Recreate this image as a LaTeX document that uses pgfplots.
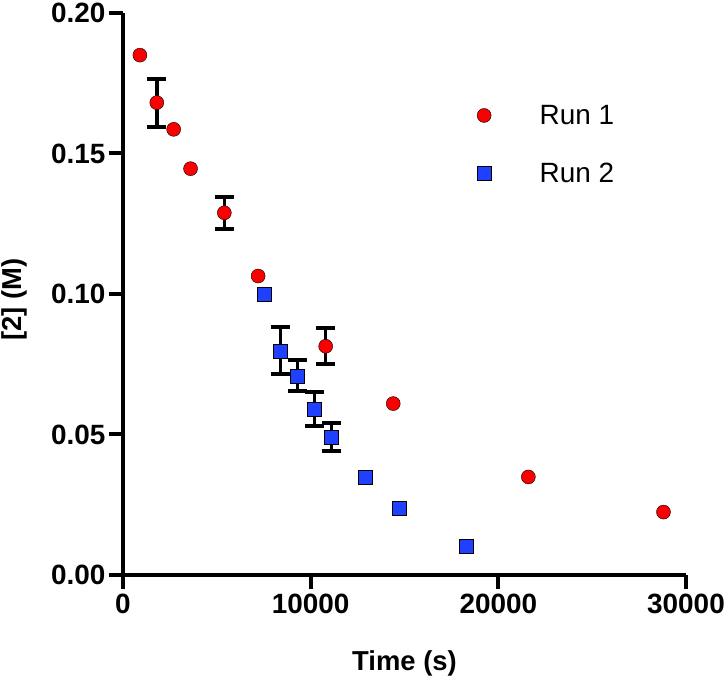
\documentclass[border=0pt]{standalone}
\usepackage{pgfplots}
\pgfplotsset{compat=1.18}
\usepackage{fontspec}
\setmainfont{Liberation Sans}
\definecolor{runred}{RGB}{250,0,0}
\definecolor{runblue}{RGB}{31,64,255}
\begin{document}
\begin{tikzpicture}
\useasboundingbox (-123bp,-105bp) rectangle (603bp,575bp);
\begin{axis}[
  scale only axis,
  width=563bp, height=562bp,
  xmin=0, xmax=30000, ymin=0, ymax=0.2,
  axis lines=left,
  axis line style={-, line width=4bp, black},
  xtick={0,10000,20000,30000},
  ytick={0,0.05,0.1,0.15,0.2},
  scaled x ticks=false,
  scaled y ticks=false,
  tick align=outside,
  major tick length=14bp,
  tick style={line width=4bp, black},
  /pgf/number format/assume math mode=true,
  x tick label style={/pgf/number format/1000 sep={}},
  y tick label style={/pgf/number format/.cd, fixed, fixed zerofill, precision=2},
  tick label style={font=\bfseries\fontsize{28}{32}\selectfont},
  xticklabel style={yshift=-1bp},
  label style={font=\bfseries\fontsize{27.5}{32}\selectfont},
  xlabel={Time (s)},
  ylabel={[2] (M)},
  xlabel style={at={(axis description cs:0.5,0)}, anchor=base, yshift=-95bp},
  ylabel style={at={(axis description cs:-0.192,0.49)}, anchor=center},
  clip=false,
  legend cell align=left,
  legend style={at={(0.626,0.84)}, anchor=north west, draw=none, fill=none,
    inner sep=0pt, row sep=33bp, font=\fontsize{28}{32}\selectfont},
  legend image code/.code={\path[draw=none,fill=none] (0bp,0bp) rectangle (62bp,0.1bp); \path[#1,draw=none] plot[only marks] coordinates {(8.5bp,0bp)};},
]
% error bars (drawn beneath markers)
\addplot[forget plot, only marks, mark=*, mark size=0.01bp, mark options={draw=none, fill=none},
  error bars/.cd, y dir=both, y explicit,
  error bar style={draw=black, line width=3.5bp},
  error mark=|,
  error mark options={draw=black, fill=black, line width=4bp, mark size=9.5bp}]
  coordinates {
  (1800,0.1681) +- (0,0.0085)
  (5400,0.1289) +- (0,0.0057)
  (10800,0.0814) +- (0,0.0064)
  (8400,0.0798) +- (0,0.0084)
  (9300,0.0709) +- (0,0.0055)
  (10200,0.0591) +- (0,0.0062)
  (11100,0.0492) +- (0,0.0049)
  };
\addplot[only marks, mark=*, mark size=7bp, draw=none, fill=runred, mark options={draw=none, fill=runred}]
  coordinates {
  (900,0.1850) (1800,0.1681) (2700,0.1586) (3600,0.1446) (5400,0.1289)
  (7200,0.1064) (10800,0.0814) (14400,0.0610) (21600,0.0349) (28800,0.0224)
  };
\addlegendentry{Run 1}
\addplot[only marks, mark=square*, mark size=7bp, draw=none, fill=runblue, mark options={draw=none, fill=runblue}]
  coordinates {
  (7500,0.1000) (8400,0.0798) (9300,0.0709) (10200,0.0591) (11100,0.0492)
  (12900,0.0349) (14700,0.0238) (18300,0.0104)
  };
\addlegendentry{Run 2}
\end{axis}
\end{tikzpicture}
\end{document}
